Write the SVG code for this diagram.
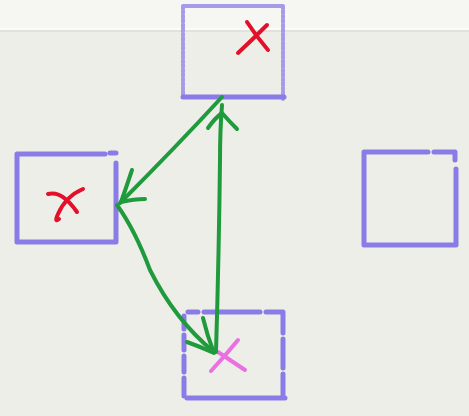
<svg xmlns="http://www.w3.org/2000/svg" width="469" height="416" viewBox="0 0 469 416">
<defs>
<style>
.box{fill:none;stroke:#8a7ce6;stroke-width:5;stroke-linecap:round;stroke-linejoin:round}
.faint{stroke:#a79ae8;stroke-width:4;stroke-dasharray:3 1.5}
.x{fill:none;stroke:#e3102a;stroke-width:4;stroke-linecap:round;stroke-linejoin:round}
.xm{fill:none;stroke:#ea6fe0;stroke-width:4;stroke-linecap:round}
.arr{fill:none;stroke:#1f9a3c;stroke-width:4;stroke-linecap:round;stroke-linejoin:round}
</style>
</defs>
<rect width="469" height="416" fill="#eeeee9"/>
<rect width="469" height="28" fill="#f6f6f3"/>
<line x1="0" y1="29" x2="469" y2="29" stroke="#fcfcfb" stroke-width="2"/>
<line x1="0" y1="31" x2="469" y2="31" stroke="#deded8" stroke-width="1.5"/>

<g id="node-top">
<path class="box faint" d="M183 6 H283 M183 6 V97 M283 6 V99"/>
<path class="box" d="M183 97 H284"/>
<path class="x" d="M247 22 Q256 36 268 50 M267 25 Q252 40 238 53"/>
</g>

<g id="node-left">
<path class="box" d="M105 154 H17 V242 H116 V163 M110 153 H116"/>
<path class="x" d="M48 194 Q62 190 77 212 M83 189 Q66 196 58 214 Q54 223 59 219"/>
</g>

<g id="node-right">
<path class="box" d="M428 152 H364 V245 H456 V169 M434 152 H455 V160"/>
</g>

<g id="node-bottom">
<path class="box" d="M188 312 H198 M204 312 H260 M266 312 H283 V333 M283 339 V368 M283 374 V396 M187 398 H285 M184 316 V329 M184 335 V350 M184 356 V372 M184 378 V396"/>
<path class="xm" d="M238 340 Q225 356 211 371 M218 352 Q233 362 245 370"/>
</g>

<g id="connectors">
<path class="arr" d="M222 97 Q175 148 120 203"/>
<path class="arr" d="M132 170 Q126 188 121 202 Q134 199 145 199"/>
<path class="arr" d="M216 352 Q219 250 220 160 Q220 130 222 105"/>
<path class="arr" d="M208 128 Q215 118 222 113 Q229 121 237 129"/>
<path class="arr" d="M117 205 Q135 230 150 270 Q175 320 214 352"/>
<path class="arr" d="M187 342 Q201 347 214 353 Q207 335 203 318"/>
</g>
</svg>
